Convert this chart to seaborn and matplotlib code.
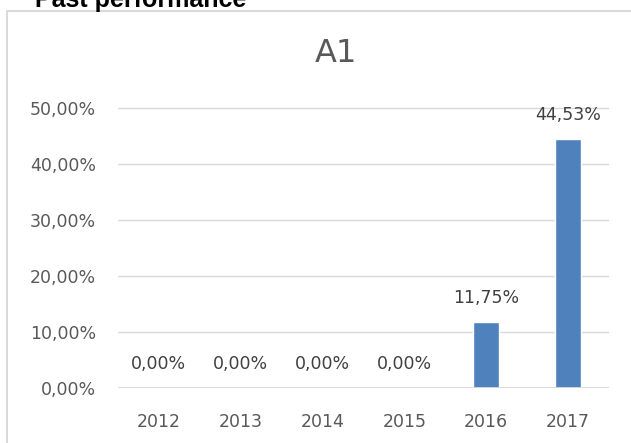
import matplotlib
matplotlib.use("Agg")
import matplotlib.pyplot as plt
from matplotlib.lines import Line2D
import seaborn as sns
import pandas as pd

years = ["2012", "2013", "2014", "2015", "2016", "2017"]
values = [0.0, 0.0, 0.0, 0.0, 0.1175, 0.4453]
yticks = [0.0, 0.1, 0.2, 0.3, 0.4, 0.5]
chart_title = "A1"
heading = "Past performance"

W, H = 631, 443
DPI = 100

sns.set_theme(style="white")
plt.rcParams["font.family"] = ["DejaVu Sans"]

fig = plt.figure(figsize=(W / DPI, H / DPI), dpi=DPI)

# plot area in pixels
left_px, right_px = 118, 609
base_px = 388
px_per_unit = 560.0
ytop = 0.52
top_px = base_px - ytop * px_per_unit
ax = fig.add_axes([left_px / W, 1 - base_px / H, (right_px - left_px) / W, (base_px - top_px) / H])

df = pd.DataFrame({"year": years, "value": values})
sns.barplot(data=df, x="year", y="value", order=years, color="#4F81BD",
            width=0.32, saturation=1, ax=ax, zorder=3)

ax.set_ylim(0, ytop)
ax.set_xlim(-0.5, len(years) - 0.5)
ax.set_yticks(yticks)
ax.set_yticklabels([f"{v*100:.2f}%".replace(".", ",") for v in yticks])
for s in ax.spines.values():
    s.set_visible(False)
ax.grid(axis="y", color="#D9D9D9", linewidth=1.0)
ax.grid(axis="x", visible=False)
ax.set_axisbelow(True)
ax.tick_params(axis="both", length=0, labelsize=12.5, colors="#595959")
ax.tick_params(axis="y", pad=16)
ax.tick_params(axis="x", pad=18)
ax.set_xlabel("")
ax.set_ylabel("")
ax.axhline(0, color="#D9D9D9", linewidth=1.3, zorder=4)

for i, v in enumerate(values):
    ax.annotate(f"{v*100:.2f}%".replace(".", ","), (i, v), xytext=(0, 13.5),
                textcoords="offset points", ha="center", va="baseline",
                fontsize=12.5, color="#404040")

fig.text(336 / W, 1 - 62 / H, chart_title, ha="center", va="baseline",
         fontsize=23, color="#595959")

fig.text(35 / W, 1 - 7 / H, heading, ha="left", va="baseline",
         fontsize=18, fontweight="bold", color="black", family=["Liberation Sans"])

# chart border (light grey)
fig.add_artist(Line2D([6.5 / W, 6.5 / W, 1.0], [0.0, 1 - 10.5 / H, 1 - 10.5 / H],
                      transform=fig.transFigure, color="#D9D9D9", linewidth=1.4))

fig.savefig("out.png", dpi=DPI, facecolor="white")
